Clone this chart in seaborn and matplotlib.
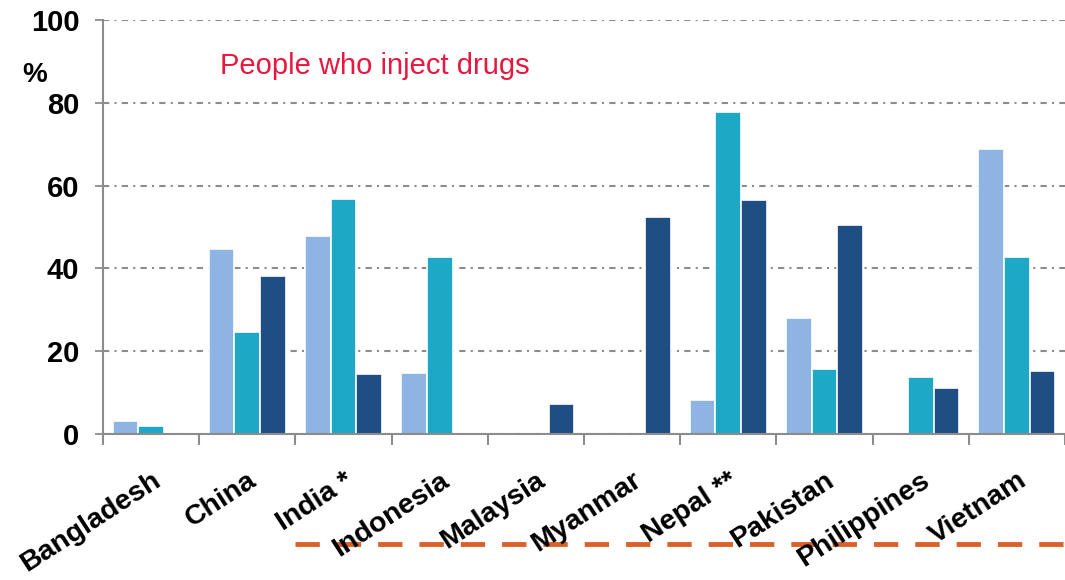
import numpy as np
import pandas as pd
import matplotlib.pyplot as plt
from matplotlib.lines import Line2D
import seaborn as sns

# valores (%), NaN = sem dado
countries = ['Bangladesh', 'China', 'India *', 'Indonesia', 'Malaysia',
             'Myanmar', 'Nepal **', 'Pakistan', 'Philippines', 'Vietnam']
series_a = [3.2, 44.7, 47.8, 14.8, np.nan, np.nan, 8.3, 28.1, np.nan, 68.8]
series_b = [1.9, 24.7, 56.8, 42.8, np.nan, np.nan, 77.8, 15.8, 13.8, 42.8]
series_c = [np.nan, 38.2, 14.6, np.nan, 7.3, 52.3, 56.6, 50.5, 11.2, 15.1]
series_names = ['A', 'B', 'C']
colors = ['#8EB4E3', '#1DA9C6', '#1F4E85']

df = pd.DataFrame({
    'country': countries * 3,
    'serie': [s for s in series_names for _ in countries],
    'valor': series_a + series_b + series_c,
})

sns.set_style('white')
plt.rcParams['font.family'] = ['Liberation Sans', 'DejaVu Sans']
plt.rcParams['text.color'] = 'black'
plt.rcParams['xtick.labelcolor'] = 'black'
plt.rcParams['ytick.labelcolor'] = 'black'

fig = plt.figure(figsize=(10.65, 5.8), dpi=100)
ax = fig.add_axes([103 / 1065, 1 - 434 / 580, 1 - 103 / 1065, (434 - 20) / 580])

sns.barplot(data=df, x='country', y='valor', hue='serie', order=countries,
            hue_order=series_names, palette=colors, saturation=1, width=0.8,
            edgecolor='white', linewidth=1.2, legend=False, ax=ax)

ax.set_xlim(-0.5, len(countries) - 0.5)
ax.set_ylim(0, 100)
ax.set_yticks([0, 20, 40, 60, 80, 100])
ax.set_yticklabels(['0', '20', '40', '60', '80', '100'], fontsize=21,
                   fontweight='bold', color='black')
ax.yaxis.grid(True, color='#8C8C8C', linestyle=(0, (3, 2.5, 1, 2.5)), linewidth=1.5)
ax.set_axisbelow(True)
ax.tick_params(axis='y', length=6, width=1.3, color='#8C8C8C', left=True, pad=11)

# ticks nas divisões entre países
ax.set_xticks(np.arange(len(countries) + 1) - 0.5, minor=True)
ax.tick_params(axis='x', which='minor', length=8, width=1.5, color='#8C8C8C', bottom=True)
ax.tick_params(axis='x', which='major', length=0, pad=24)
ax.set_xticks(range(len(countries)))
ax.set_xticklabels(countries, fontsize=20.5, fontweight='bold', rotation=33,
                   ha='right', rotation_mode='anchor', color='black')

for s in ['top', 'right']:
    ax.spines[s].set_visible(False)
for s in ['left', 'bottom']:
    ax.spines[s].set_color('#8C8C8C')
    ax.spines[s].set_linewidth(1.5)

ax.set_xlabel('')
ax.set_ylabel('')

fig.text(22 / 1065, 1 - 75 / 580, '%', fontsize=20, fontweight='bold',
         va='center', color='black')
fig.text(220 / 1065, 1 - 66 / 580, 'People who inject drugs', fontsize=21,
         color='#E8173F', va='center')

fig.add_artist(Line2D([295 / 1065, 1.0], [1 - 544 / 580, 1 - 544 / 580],
                      color='#D9622B', linewidth=3.5, linestyle=(0, (5, 3.5)),
                      zorder=-1))

fig.savefig('out.png', dpi=100)
